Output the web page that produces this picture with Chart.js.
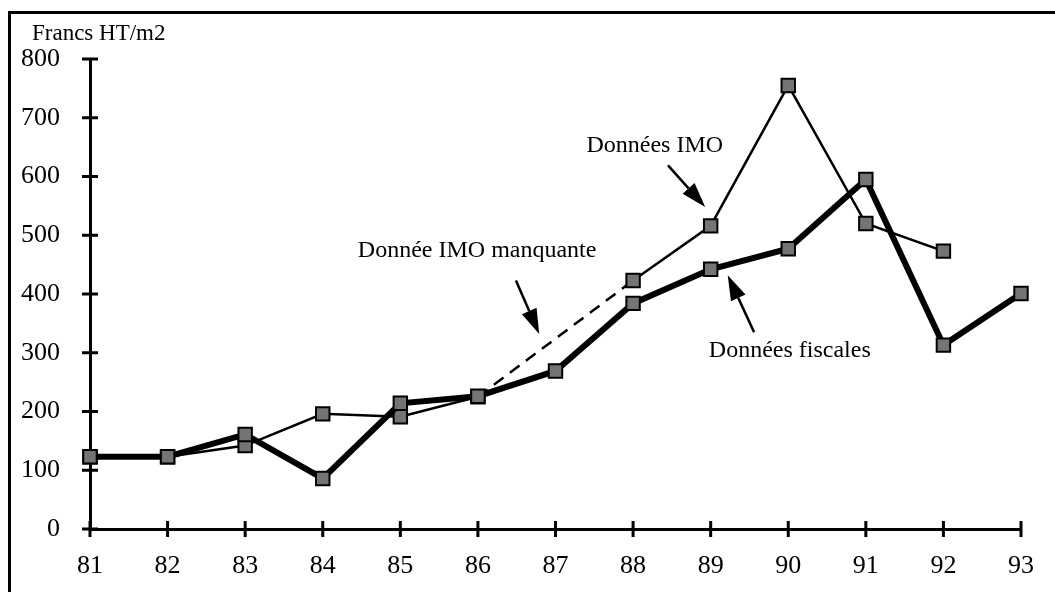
<!DOCTYPE html>
<html>
<head>
<meta charset="utf-8">
<script src="https://cdn.jsdelivr.net/npm/chart.js@4.4.0/dist/chart.umd.min.js"></script>
<style>
  html, body { margin: 0; padding: 0; background: #fff; }
  #wrap { width: 1055px; height: 592px; position: relative; }
</style>
</head>
<body>
<div id="wrap"><canvas id="chart"></canvas></div>
<script>
// Data
const years = ['81', '82', '83', '84', '85', '86', '87', '88', '89', '90', '91', '92', '93'];
const imoValues = [123, 123, 142, 196, 191, 225, null, 423, 516, 755, 520, 473, null];
const fiscalValues = [123, 123, 161, 86, 214, 226, 269, 384, 442, 477, 595, 313, 401];
const yMin = 0;
const yMax = 800;
const yStep = 100;

const serif = '"Liberation Serif", "Times New Roman", serif';
const markerFill = '#747474';

// Annotations: text + arrow, positioned in data units (category index, value)
const notes = [
  { text: 'Données IMO', at: [7.28, 653], from: [7.45, 619], to: [7.93, 548] },
  { text: 'Donnée IMO manquante', at: [4.99, 473], from: [5.49, 423], to: [5.79, 332] },
  { text: 'Données fiscales', at: [9.02, 303], from: [8.56, 335], to: [8.22, 432] }
];

// Outer frame and unit label
const framePlugin = {
  id: 'frame',
  beforeDraw(chart) {
    const ctx = chart.ctx;
    ctx.save();
    ctx.fillStyle = '#fff';
    ctx.fillRect(0, 0, chart.width, chart.height);
    ctx.strokeStyle = '#000';
    ctx.lineWidth = 3;
    ctx.beginPath();
    ctx.moveTo(9.5, chart.height + 5);
    ctx.lineTo(9.5, 12.5);
    ctx.lineTo(chart.width + 5, 12.5);
    ctx.stroke();
    ctx.fillStyle = '#000';
    ctx.font = '23px ' + serif;
    ctx.textBaseline = 'alphabetic';
    ctx.fillText('Francs HT/m2', 32, 40);
    ctx.restore();
  }
};

// Tick marks crossing the axes
const tickMarks = {
  id: 'tickMarks',
  beforeDatasetsDraw(chart) {
    const { ctx, scales: { x, y } } = chart;
    ctx.save();
    ctx.strokeStyle = '#000';
    ctx.lineWidth = 3;
    ctx.beginPath();
    x.ticks.forEach((t, i) => {
      const px = x.getPixelForTick(i);
      ctx.moveTo(px, y.bottom - 8);
      ctx.lineTo(px, y.bottom + 8);
    });
    y.ticks.forEach((t, i) => {
      const py = y.getPixelForTick(i);
      ctx.moveTo(x.left - 8, py);
      ctx.lineTo(x.left + 8, py);
    });
    ctx.stroke();
    ctx.restore();
  }
};

function drawArrow(ctx, x1, y1, x2, y2) {
  const ang = Math.atan2(y2 - y1, x2 - x1);
  const headLen = 25, headHalf = 8;
  const bx = x2 - headLen * Math.cos(ang);
  const by = y2 - headLen * Math.sin(ang);
  ctx.beginPath();
  ctx.moveTo(x1, y1);
  ctx.lineTo(bx, by);
  ctx.stroke();
  ctx.beginPath();
  ctx.moveTo(x2, y2);
  ctx.lineTo(bx + headHalf * Math.sin(ang), by - headHalf * Math.cos(ang));
  ctx.lineTo(bx - headHalf * Math.sin(ang), by + headHalf * Math.cos(ang));
  ctx.closePath();
  ctx.fill();
}

const notesPlugin = {
  id: 'notes',
  afterDatasetsDraw(chart) {
    const { ctx, scales: { x, y } } = chart;
    const px = v => x.getPixelForValue(v);
    ctx.save();
    ctx.fillStyle = '#000';
    ctx.strokeStyle = '#000';
    ctx.lineWidth = 2.5;
    ctx.font = '24px ' + serif;
    ctx.textAlign = 'center';
    ctx.textBaseline = 'middle';
    notes.forEach(n => {
      ctx.fillText(n.text, px(n.at[0]), y.getPixelForValue(n.at[1]));
      drawArrow(ctx, px(n.from[0]), y.getPixelForValue(n.from[1]),
                     px(n.to[0]), y.getPixelForValue(n.to[1]));
    });
    ctx.restore();
  }
};

const isGap = ctx => ctx.p0.skip || ctx.p1.skip || ctx.p1DataIndex - ctx.p0DataIndex > 1;
const gapDash = ctx => isGap(ctx) ? [12, 8] : undefined;

function noPadding(scale) {
  scale.paddingTop = 0;
  scale.paddingBottom = 0;
  scale.paddingLeft = 0;
  scale.paddingRight = 0;
}

new Chart(document.getElementById('chart'), {
  type: 'line',
  data: {
    labels: years,
    datasets: [
      {
        label: 'Données fiscales',
        data: fiscalValues,
        borderColor: '#000',
        borderWidth: 6,
        pointStyle: 'rect',
        pointRadius: 9.5,
        pointBackgroundColor: markerFill,
        pointBorderColor: '#000',
        pointBorderWidth: 2,
        tension: 0,
        fill: false
      },
      {
        label: 'Données IMO',
        data: imoValues,
        borderColor: '#000',
        borderWidth: 2.5,
        pointStyle: 'rect',
        pointRadius: 9.5,
        pointBackgroundColor: markerFill,
        pointBorderColor: '#000',
        pointBorderWidth: 2,
        tension: 0,
        fill: false,
        spanGaps: true,
        segment: { borderDash: gapDash }
      }
    ]
  },
  options: {
    responsive: true,
    maintainAspectRatio: false,
    animation: false,
    layout: { padding: { top: 59, right: 34, left: 0, bottom: 0 } },
    plugins: {
      legend: { display: false },
      tooltip: { enabled: false }
    },
    scales: {
      x: {
        type: 'category',
        offset: false,
        grid: { display: false, drawTicks: false },
        border: { display: true, color: '#000', width: 3 },
        ticks: {
          color: '#000',
          font: { family: serif, size: 26 },
          padding: 22,
          maxRotation: 0,
          autoSkip: false
        },
        afterFit(scale) {
          scale.height = 63;
          noPadding(scale);
        }
      },
      y: {
        min: yMin,
        max: yMax,
        grid: { display: false, drawTicks: false },
        border: { display: true, color: '#000', width: 3 },
        ticks: {
          stepSize: yStep,
          color: '#000',
          font: { family: serif, size: 26 },
          padding: 30
        },
        afterFit(scale) {
          scale.width = 90;
          noPadding(scale);
        }
      }
    }
  },
  plugins: [framePlugin, tickMarks, notesPlugin]
});
</script>
</body>
</html>
